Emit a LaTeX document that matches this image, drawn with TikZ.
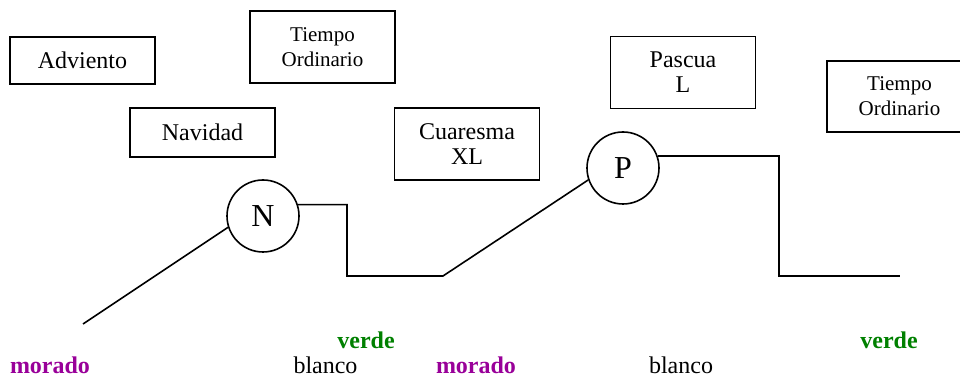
\documentclass[tikz,border=0pt]{standalone}
\usepackage{fontspec}
\setmainfont{Liberation Serif}
\definecolor{morado}{RGB}{153,0,153}
\definecolor{verde}{RGB}{0,128,0}
\begin{document}
\begin{tikzpicture}[x = 0.5pt, y = -0.5pt, line width = 0.8pt,
        season/.style = {draw, minimum width = 72.5pt, inner sep = 0pt, align = center, font = \fontsize{12}{12.5}\selectfont},
        feast/.style = {draw, circle, minimum size = 36pt, inner sep = 0pt, font = \fontsize{16}{16}\selectfont},
        colour/.style = {anchor = base, font = \fontsize{12}{12}\selectfont}]
                \useasboundingbox (0, 0) rectangle (960, 379);
                \clip (0, 0) rectangle (960, 379);
                \node[season, minimum height = 23.5pt] (adviento) at (82.5, 60.5) {Adviento};
                \node[season, minimum height = 36pt, font = \fontsize{10.5}{12.5}\selectfont] (tiempoA) at (322.5, 47) {Tiempo\\Ordinario};
                \node[season, minimum height = 24.5pt] (navidad) at (202.5, 132.5) {Navidad};
                \node[season, minimum height = 36pt] (cuaresma) at (467, 144) {Cuaresma\\XL};
                \node[season, minimum height = 36pt] (pascua) at (683, 72.5) {Pascua\\L};
                \node[season, minimum height = 35.5pt, font = \fontsize{10.5}{12.5}\selectfont] (tiempoB) at (899.5, 96.5) {Tiempo\\Ordinario};
                \node[feast] (N) at (263, 216) {N};
                \node[feast] (P) at (623, 168) {P};
                \coordinate (start) at (83, 324);
                \coordinate (lowN) at (347, 276);
                \coordinate (riseP) at (443, 276);
                \coordinate (lowP) at (779, 276);
                \coordinate (finish) at (900, 276);
                \draw (start) -- (N.198);
                \draw (N.18) -| (lowN) -- (riseP) -- (P.199);
                \draw (P.19) -| (lowP) -- (finish);
                \node[colour, text = morado, font = \fontsize{12}{12}\bfseries] (moradoA) at (50, 374) {morado};
                \node[colour] (blancoA) at (325.5, 374) {blanco};
                \node[colour, text = verde, font = \fontsize{12}{12}\bfseries] (verdeA) at (366, 349) {verde};
                \node[colour, text = morado, font = \fontsize{12}{12}\bfseries] (moradoB) at (476, 374) {morado};
                \node[colour] (blancoB) at (681, 374) {blanco};
                \node[colour, text = verde, font = \fontsize{12}{12}\bfseries] (verdeB) at (889, 349) {verde};
            \end{tikzpicture}
\end{document}
